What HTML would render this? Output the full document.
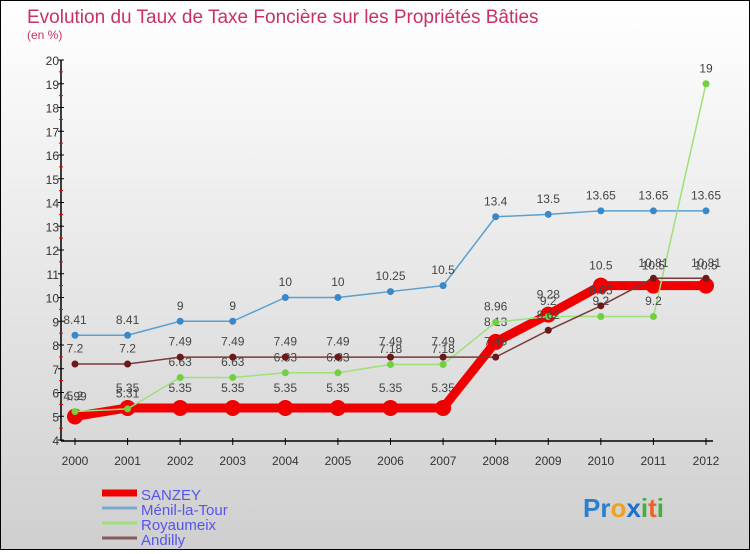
<!DOCTYPE html>
<html><head><meta charset="utf-8"><style>
html,body{margin:0;padding:0}
body{width:750px;height:550px;overflow:hidden;font-family:"Liberation Sans",sans-serif}
#wrap{position:relative;width:748px;height:548px;border:1px solid #000;background:linear-gradient(#ffffff,#cfcfcf)}
</style></head><body>
<div id="wrap">
<svg id="chart" width="748" height="548"></svg>
</div>
<script>
const years=[2000,2001,2002,2003,2004,2005,2006,2007,2008,2009,2010,2011,2012];
const yTicks=[4,5,6,7,8,9,10,11,12,13,14,15,16,17,18,19,20];
const sanzey=[4.99,5.35,5.35,5.35,5.35,5.35,5.35,5.35,8.13,9.28,10.5,10.5,10.5];
const menil=[8.41,8.41,9,9,10,10,10.25,10.5,13.4,13.5,13.65,13.65,13.65];
const royaumeix=[5.2,5.31,6.63,6.63,6.83,6.83,7.18,7.18,8.96,9.2,9.2,9.2,19];
const andilly=[7.2,7.2,7.49,7.49,7.49,7.49,7.49,7.49,7.49,8.62,9.65,10.81,10.81];
const seriesNames=["SANZEY","Ménil-la-Tour","Royaumeix","Andilly"];

const NS="http://www.w3.org/2000/svg";
const svg=document.getElementById('chart');
function el(t,a,p){const e=document.createElementNS(NS,t);for(const k in a)e.setAttribute(k,a[k]);(p||svg).appendChild(e);return e;}
const x=i=>74+i*(705-74)/(years.length-1);
const y=v=>439-(v-4)*(439-59)/16;

let t=el('text',{x:26,y:22,'font-size':19,fill:'#c8306a'});t.textContent="Evolution du Taux de Taxe Foncière sur les Propriétés Bâties";


t=el('text',{x:26,y:38,'font-size':12,fill:'#c8306a'});t.textContent="(en %)";



// axes
let ax=el('line',{x1:60,y1:59,x2:60,y2:440,stroke:'#000','stroke-width':1.5});


ax=el('line',{x1:60,y1:440,x2:712,y2:440,stroke:'#000','stroke-width':1.5});


yTicks.forEach(v=>{
  el('line',{x1:57,x2:63,y1:y(v),y2:y(v),stroke:'#000'});
  if(v<20){el('line',{x1:58,x2:62,y1:y(v+0.5),y2:y(v+0.5),stroke:'#e00'});}
  const l=el('text',{x:58,y:y(v)+5,'font-size':12,fill:'#333','text-anchor':'end'});l.textContent=v;
  
  
});
years.forEach((yr,i)=>{
  el('line',{x1:x(i),x2:x(i),y1:437,y2:444,stroke:'#000'});
  const l=el('text',{x:x(i),y:464,'font-size':12,fill:'#333','text-anchor':'middle'});l.textContent=yr;
  
  
});

function series(vals,color,w,r,name,dotFill){
  const g=el('g',{});
  
  
  el('polyline',{points:vals.map((v,i)=>x(i)+','+y(v)).join(' '),fill:'none',stroke:color,'stroke-width':w,'stroke-linejoin':'round'},g);
  vals.forEach((v,i)=>{
    const c=el('circle',{cx:x(i),cy:y(v),r:r,fill:dotFill||color},g);
    
    
    const l=el('text',{x:x(i),y:y(v)-(r+8),'font-size':12,fill:'#444','text-anchor':'middle'},g);l.textContent=v;
    
    
  });
}
series(sanzey,'#f00000',9,8,'sanzey');
series(menil,'#5a9fd0',1.5,3.5,'menil-la-tour','#3a88c8');
series(royaumeix,'#9ee07a',1.5,3.5,'royaumeix','#70d040');
series(andilly,'#7a3a3a',1.5,3.5,'andilly','#6a1818');

// legend
const leg=[['#f00000',7],['#7aaad0',3],['#9ee07a',3],['#8a5a5a',3]];
seriesNames.forEach((n,i)=>{
  const yy=494+i*15;
  const g=el('g',{});
  
  
  el('line',{x1:101,x2:136,y1:yy-2,y2:yy-2,stroke:leg[i][0],'stroke-width':leg[i][1]},g);
  const l=el('text',{x:140,y:yy+5,'font-size':15,fill:'#5555ee'},g);l.textContent=n;
});
// logo
const lg=el('text',{x:582,y:516,'font-size':26,'font-weight':'bold'});


[['P','#2a7fd0'],['r','#2a7fd0'],['o','#f0a020'],['x','#1a6fd0'],['i','#40b040'],['t','#f06020'],['i','#40b040']].forEach(([c,f])=>{const s=el('tspan',{fill:f},lg);s.textContent=c;});
</script>
</body></html>
